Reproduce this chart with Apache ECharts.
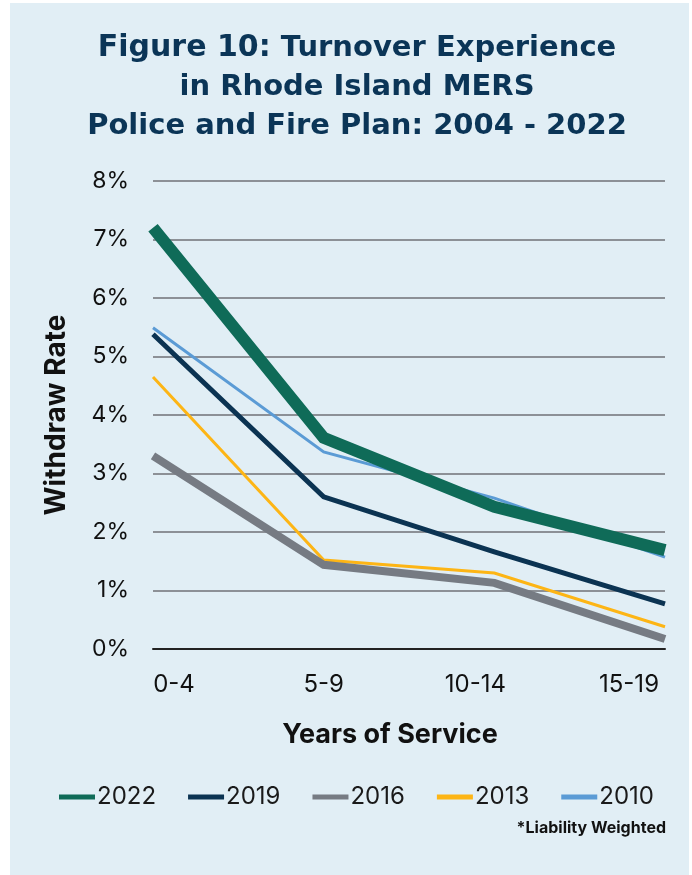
<!DOCTYPE html>
<html>
<head>
<meta charset="utf-8">
<script src="https://cdn.jsdelivr.net/npm/echarts@6/dist/echarts.min.js"></script>
<style>
html,body{margin:0;padding:0;background:#ffffff;}
#c{width:692px;height:875px;}
</style>
</head>
<body>
<div id="c"></div>
<script>
const categories = ['0-4', '5-9', '10-14', '15-19'];
const years = ['2022', '2019', '2016', '2013', '2010'];
const s2022 = [7.2, 3.61, 2.43, 1.69];
const s2019 = [5.38, 2.6, 1.66, 0.77];
const s2016 = [3.3, 1.44, 1.13, 0.17];
const s2013 = [4.65, 1.52, 1.3, 0.38];
const s2010 = [5.49, 3.37, 2.58, 1.57];
const yTicks = [0, 1, 2, 3, 4, 5, 6, 7, 8];
const titleLines = ['Turnover Experience', 'in Rhode Island MERS', 'Police and Fire Plan: 2004 - 2022'];
const titlePrefix = 'Figure 10:';
const note = '*Liability Weighted';

const font = 'Inter, "Open Sans", sans-serif';
const titleFont = '"DejaVu Sans", Inter, sans-serif';
const navy = '#0b3557';
const chart = echarts.init(document.getElementById('c'), null, {renderer: 'canvas'});

function line(name, data, color, width) {
  return {
    name: name, type: 'line', data: data, symbol: 'none',
    lineStyle: {color: color, width: width, cap: 'butt', join: 'miter'},
    itemStyle: {color: color},
    emphasis: {disabled: true}
  };
}

function titleText(text, y) {
  return {
    type: 'text', x: 357, y: y, silent: true, z: 10,
    style: {
      text: text, align: 'center', verticalAlign: 'middle',
      fontFamily: titleFont, fontSize: 29, fontWeight: 700, fill: navy,
      rich: {b: {fontFamily: titleFont, fontSize: 30, fontWeight: 900, fill: navy}}
    }
  };
}

chart.setOption({
  animation: false,
  backgroundColor: '#ffffff',
  graphic: [
    {type: 'rect', z: -10, silent: true, shape: {x: 10, y: 3, width: 679, height: 872}, style: {fill: '#e1eef5'}},
    titleText('{b|' + titlePrefix + '} ' + titleLines[0], 48),
    titleText(titleLines[1], 87),
    titleText(titleLines[2], 126),
    {type: 'text', x: 666, y: 828, silent: true,
     style: {text: note, align: 'right', verticalAlign: 'middle', fontFamily: font, fontSize: 16, fontWeight: 700, fill: '#111'}}
  ],
  legend: {
    data: years,
    top: 780, left: 54,
    icon: 'rect', itemWidth: 36, itemHeight: 5, itemGap: 32,
    textStyle: {fontFamily: font, fontSize: 24, color: '#1a1a1a', padding: [0, 0, 0, -3]}
  },
  grid: {left: 153, right: 27, top: 181, bottom: 226, containLabel: false},
  xAxis: {
    type: 'category', data: categories, boundaryGap: false,
    name: 'Years of Service', nameLocation: 'middle', nameGap: 72,
    nameTextStyle: {fontFamily: font, fontSize: 27, fontWeight: 700, color: '#111', padding: [0, 38, 0, 0]},
    axisLine: {show: true, lineStyle: {color: '#222', width: 2}},
    axisTick: {show: false},
    axisLabel: {
      fontFamily: font, fontSize: 24, color: '#111', margin: 24,
      formatter: function (v, i) {
        if (i === 0) return '{l|' + v + '}';
        if (i === 3) return '{r|' + v + '}';
        if (i === 2) return '{m|' + v + '}';
        return v;
      },
      rich: {
        l: {fontFamily: font, fontSize: 24, color: '#111', padding: [0, 0, 0, 42]},
        r: {fontFamily: font, fontSize: 24, color: '#111', padding: [0, 72, 0, 0]},
        m: {fontFamily: font, fontSize: 24, color: '#111', padding: [0, 38, 0, 0]}
      }
    }
  },
  yAxis: {
    type: 'value', min: yTicks[0], max: yTicks[yTicks.length - 1], interval: 1,
    name: 'Withdraw Rate', nameLocation: 'middle', nameGap: 82, nameRotate: 90,
    nameTextStyle: {fontFamily: font, fontSize: 28, fontWeight: 700, color: '#111'},
    axisLine: {show: false}, axisTick: {show: false},
    axisLabel: {fontFamily: font, fontSize: 23, color: '#111', margin: 24, formatter: '{value}%'},
    splitLine: {lineStyle: {color: '#8c9096', width: 2}}
  },
  series: [
    line('2010', s2010, '#5b9bd5', 3),
    line('2013', s2013, '#fdb515', 3),
    line('2016', s2016, '#767b83', 8),
    line('2019', s2019, '#0b3352', 5),
    line('2022', s2022, '#0f6b58', 12)
  ]
});
</script>
</body>
</html>
